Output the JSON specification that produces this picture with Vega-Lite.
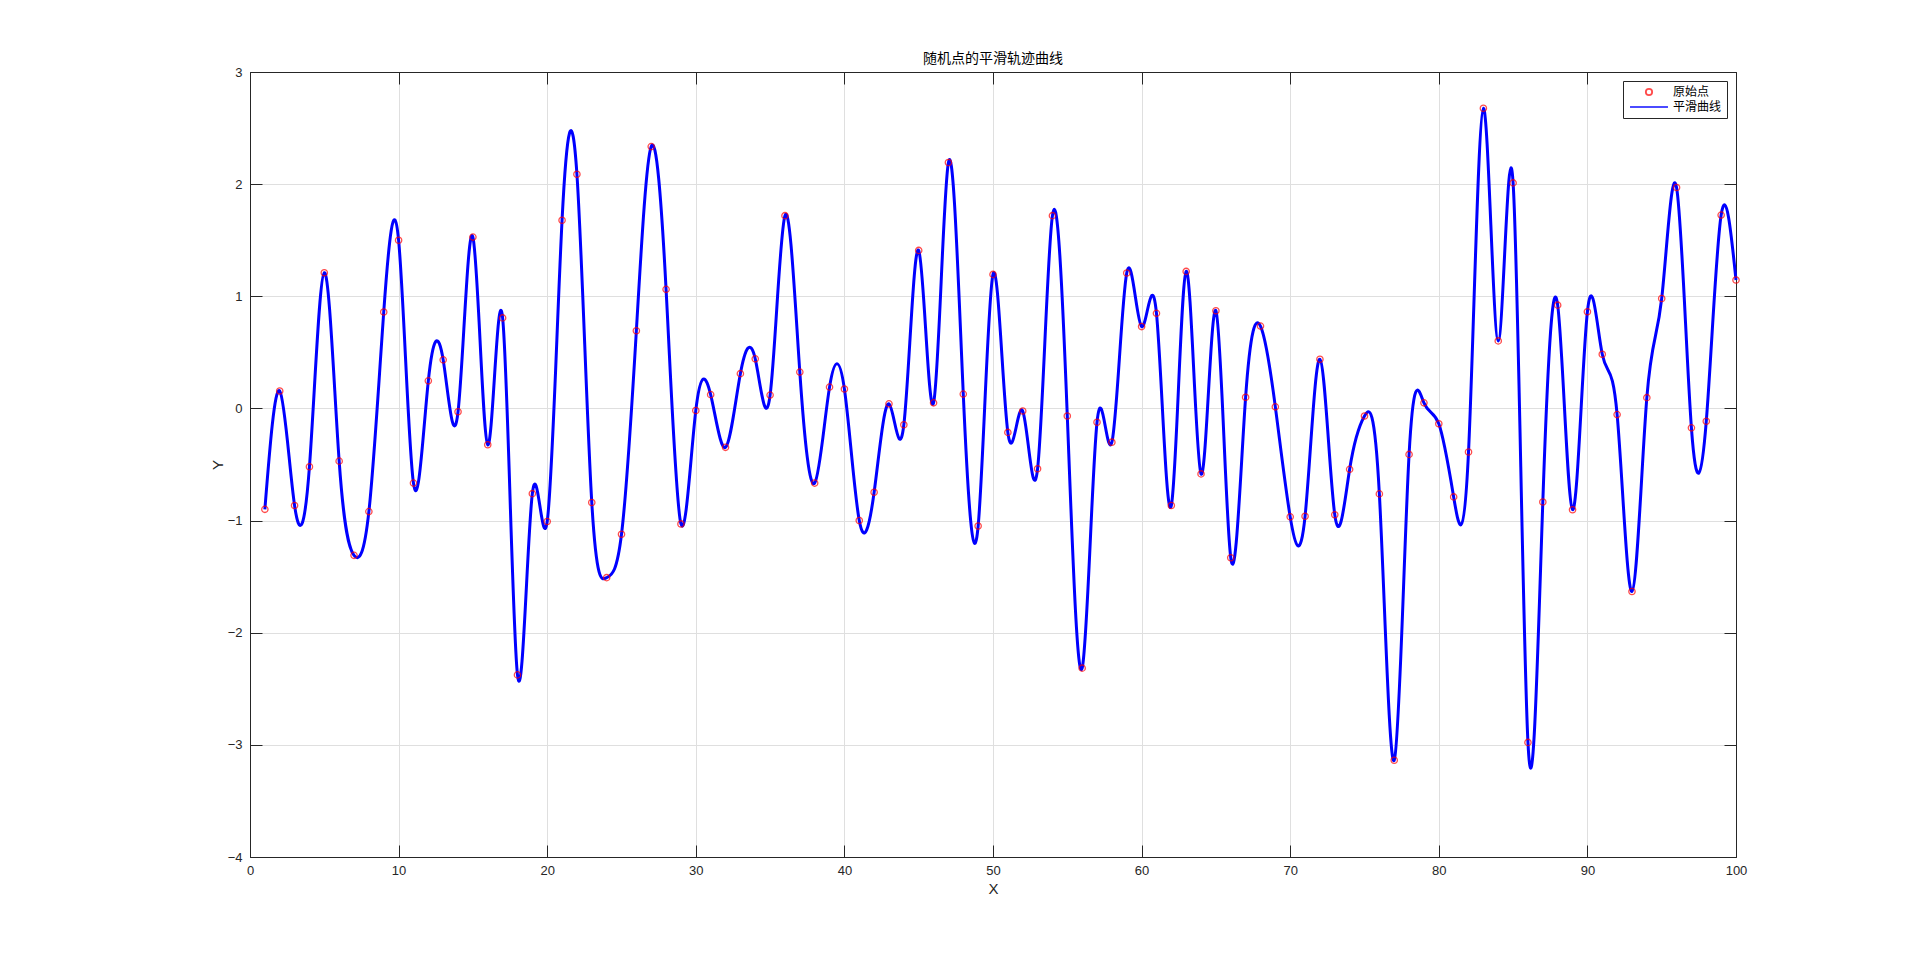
{
  "$schema": "https://vega.github.io/schema/vega-lite/v6.json",
  "width": 1486,
  "height": 785,
  "autosize": {"type": "none"},
  "padding": {"left": 250, "top": 72, "right": 184, "bottom": 105},
  "background": "white",
  "title": {"text": "随机点的平滑轨迹曲线", "font": "Noto Sans CJK SC", "fontSize": 14, "fontWeight": "normal", "color": "#000000", "offset": 0},
  "config": {
    "view": {"stroke": "#262626", "strokeWidth": 1},
    "axis": {
      "domainColor": "#262626", "tickColor": "#262626", "labelColor": "#262626", "titleColor": "#262626",
      "labelFont": "Liberation Sans", "labelFontSize": 13, "titleFont": "Liberation Sans", "titleFontSize": 15, "titleFontWeight": "normal",
      "gridColor": "#dfdfdf", "gridWidth": 1, "tickSize": -12, "tickWidth": 1, "labelFlush": false
    },
    "legend": {"symbolStrokeWidth": 1.8}
  },
  "data": {"values": [
    {"x":1,"y":-0.90},{"x":2,"y":0.155},{"x":3,"y":-0.866},{"x":4,"y":-0.52},{"x":5,"y":1.21},
    {"x":6,"y":-0.47},{"x":7,"y":-1.31},{"x":8,"y":-0.92},{"x":9,"y":0.86},{"x":10,"y":1.50},
    {"x":11,"y":-0.666},{"x":12,"y":0.246},{"x":13,"y":0.433},{"x":14,"y":-0.03},{"x":15,"y":1.528},
    {"x":16,"y":-0.324},{"x":17,"y":0.807},{"x":18,"y":-2.376},{"x":19,"y":-0.76},{"x":20,"y":-1.008},
    {"x":21,"y":1.678},{"x":22,"y":2.088},{"x":23,"y":-0.839},{"x":24,"y":-1.509},{"x":25,"y":-1.122},
    {"x":26,"y":0.693},{"x":27,"y":2.335},{"x":28,"y":1.062},{"x":29,"y":-1.03},{"x":30,"y":-0.018},
    {"x":31,"y":0.123},{"x":32,"y":-0.347},{"x":33,"y":0.31},{"x":34,"y":0.442},{"x":35,"y":0.119},
    {"x":36,"y":1.719},{"x":37,"y":0.324},{"x":38,"y":-0.666},{"x":39,"y":0.19},{"x":40,"y":0.173},
    {"x":41,"y":-0.999},{"x":42,"y":-0.748},{"x":43,"y":0.041},{"x":44,"y":-0.146},{"x":45,"y":1.409},
    {"x":46,"y":0.05},{"x":47,"y":2.193},{"x":48,"y":0.128},{"x":49,"y":-1.049},{"x":50,"y":1.195},
    {"x":51,"y":-0.214},{"x":52,"y":-0.023},{"x":53,"y":-0.538},{"x":54,"y":1.719},{"x":55,"y":-0.068},
    {"x":56,"y":-2.316},{"x":57,"y":-0.123},{"x":58,"y":-0.301},{"x":59,"y":1.208},{"x":60,"y":0.73},
    {"x":61,"y":0.848},{"x":62,"y":-0.866},{"x":63,"y":1.222},{"x":64,"y":-0.584},{"x":65,"y":0.871},
    {"x":66,"y":-1.331},{"x":67,"y":0.10},{"x":68,"y":0.734},{"x":69,"y":0.014},{"x":70,"y":-0.967},
    {"x":71,"y":-0.962},{"x":72,"y":0.438},{"x":73,"y":-0.948},{"x":74,"y":-0.543},{"x":75,"y":-0.068},
    {"x":76,"y":-0.762},{"x":77,"y":-3.137},{"x":78,"y":-0.41},{"x":79,"y":0.05},{"x":80,"y":-0.137},
    {"x":81,"y":-0.789},{"x":82,"y":-0.388},{"x":83,"y":2.677},{"x":84,"y":0.602},{"x":85,"y":2.011},
    {"x":86,"y":-2.978},{"x":87,"y":-0.834},{"x":88,"y":0.921},{"x":89,"y":-0.903},{"x":90,"y":0.862},
    {"x":91,"y":0.483},{"x":92,"y":-0.055},{"x":93,"y":-1.632},{"x":94,"y":0.096},{"x":95,"y":0.98},
    {"x":96,"y":1.97},{"x":97,"y":-0.173},{"x":98,"y":-0.114},{"x":99,"y":1.724},{"x":100,"y":1.145}
  ]},
  "layer": [
    {
      "mark": {"type": "line", "interpolate": "natural", "strokeWidth": 3},
      "encoding": {
        "x": {"field": "x", "type": "quantitative", "scale": {"domain": [0, 100], "nice": false},
              "axis": {"orient": "bottom", "values": [0,10,20,30,40,50,60,70,80,90,100], "grid": true, "title": "X", "labelPadding": 19, "titlePadding": 4}},
        "y": {"field": "y", "type": "quantitative", "scale": {"domain": [-4, 3], "nice": false, "zero": false},
              "axis": {"orient": "left", "values": [-4,-3,-2,-1,0,1,2,3], "grid": true, "title": "Y", "labelPadding": 20, "titlePadding": 2}},
        "color": {"datum": "平滑曲线", "type": "nominal",
                  "scale": {"domain": ["原始点", "平滑曲线"], "range": ["#ff0000", "#0000ff"]},
                  "legend": {"title": null, "orient": "top-right", "offset": 9, "strokeColor": "#262626", "fillColor": "white", "padding": 5,
                             "labelFont": "Noto Sans CJK SC", "labelFontSize": 12, "labelColor": "#000000", "rowPadding": 2,
                             "symbolSize": 40, "symbolOffset": 15, "labelOffset": 18}}
      }
    },
    {
      "mark": {"type": "point", "filled": false, "strokeWidth": 1.3, "size": 40},
      "encoding": {
        "x": {"field": "x", "type": "quantitative",
              "axis": {"orient": "top", "values": [0,10,20,30,40,50,60,70,80,90,100], "grid": false, "labels": false, "title": null}},
        "y": {"field": "y", "type": "quantitative",
              "axis": {"orient": "right", "values": [-4,-3,-2,-1,0,1,2,3], "grid": false, "labels": false, "title": null}},
        "color": {"datum": "原始点", "type": "nominal"},
        "shape": {"datum": "原始点", "type": "nominal", "scale": {"domain": ["原始点", "平滑曲线"], "range": ["circle", "M-6,0H6"]}}
      }
    }
  ],
  "resolve": {"axis": {"x": "independent", "y": "independent"}}
}
